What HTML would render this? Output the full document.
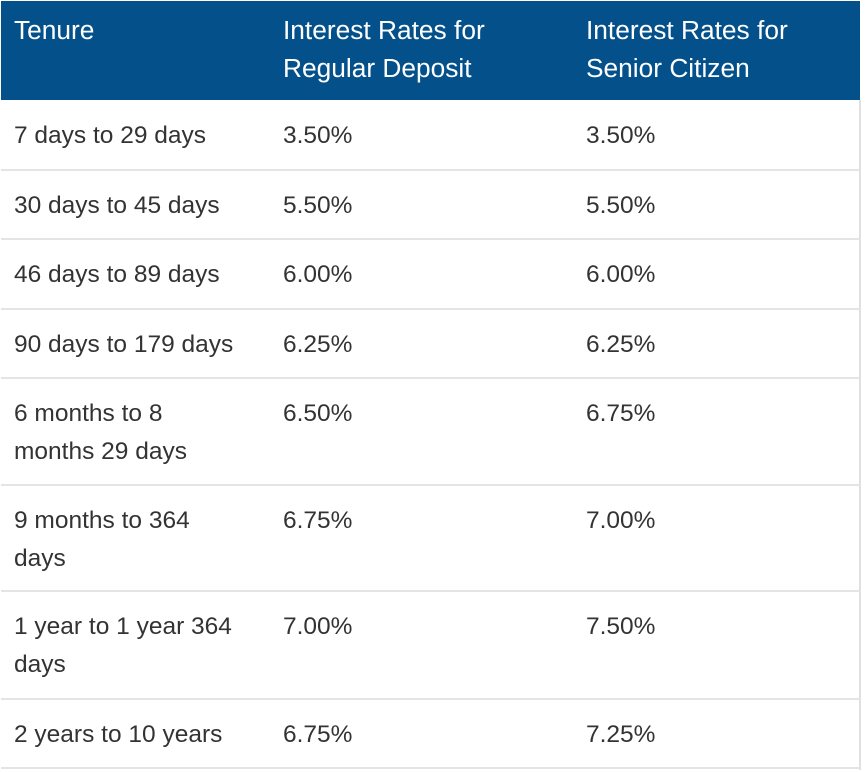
<!DOCTYPE html>
<html><head><meta charset="utf-8"><style>
body{margin:0;width:865px;height:772px;background:#fff;font-family:"Liberation Sans",sans-serif;overflow:hidden;position:relative}
.hdr{position:absolute;left:1px;top:1px;width:859px;height:99px;background:#03508a}
.t{position:absolute;font-size:24.5px;line-height:38px;white-space:nowrap}
.h{color:#fff;font-size:26.3px}
.c{color:#333}
.line{position:absolute;left:1px;width:859px;height:2px;background:#e4e4e4}
.rb{position:absolute;left:859px;top:100px;width:2px;height:670px;background:#e0e0e0}
</style></head><body>
<div class="hdr"></div>
<div class="t h" style="left:14px;top:11px">Tenure</div>
<div class="t h" style="left:283px;top:11px">Interest Rates for<br>Regular Deposit</div>
<div class="t h" style="left:586px;top:11px">Interest Rates for<br>Senior Citizen</div>
<div class="rb"></div>
<div id="rows"></div>
<script>
const tenures=["7 days to 29 days","30 days to 45 days","46 days to 89 days","90 days to 179 days","6 months to 8<br>months 29 days","9 months to 364<br>days","1 year to 1 year 364<br>days","2 years to 10 years"];
const regular=["3.50%","5.50%","6.00%","6.25%","6.50%","6.75%","7.00%","6.75%"];
const senior=["3.50%","5.50%","6.00%","6.25%","6.75%","7.00%","7.50%","7.25%"];
const bounds=[100,170,239,309,378,485,591,699,768];
const root=document.getElementById('rows');
for(let i=0;i<tenures.length;i++){
  const top=bounds[i]+17;
  const cells=[[14,tenures[i],'tenure'],[283,regular[i],'regular-rate'],[586,senior[i],'senior-rate']];
  for(const [x,txt,n] of cells){
    const d=document.createElement('div');
    d.className='t c';d.style.left=x+'px';d.style.top=top+'px';d.innerHTML=txt;
    
    
    root.appendChild(d);
  }
  const l=document.createElement('div');
  l.className='line';l.style.top=(bounds[i+1]-1)+'px';
  
  
  root.appendChild(l);
}
</script>
</body></html>
